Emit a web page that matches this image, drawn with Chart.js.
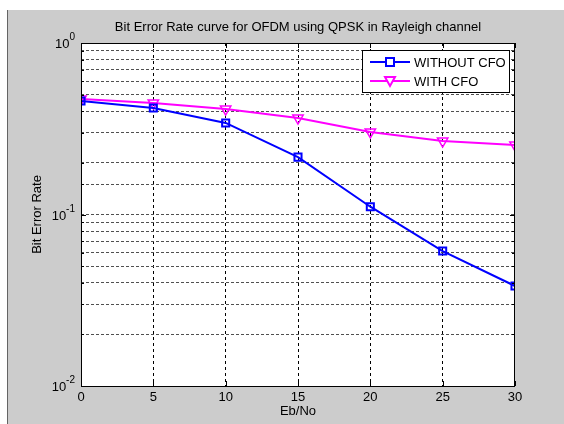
<!DOCTYPE html>
<html>
<head>
<meta charset="utf-8">
<script src="https://cdn.jsdelivr.net/npm/chart.js@4"></script>
<style>
html,body{margin:0;padding:0;background:#ffffff;}
#wrap{position:absolute;left:0;top:0;width:564px;height:424px;}
</style>
</head>
<body>
<div id="wrap"><canvas id="c" width="564" height="424"></canvas></div>
<script>
const chartTitle = 'Bit Error Rate curve for OFDM using QPSK in Rayleigh channel';
const xLabel = 'Eb/No';
const yLabel = 'Bit Error Rate';
const ebno = [0, 5, 10, 15, 20, 25, 30];
const berWithoutCFO = [0.459, 0.418, 0.342, 0.216, 0.111, 0.0612, 0.0383];
const berWithCFO = [0.471, 0.447, 0.412, 0.365, 0.303, 0.268, 0.254];
const seriesNames = ['WITHOUT CFO', 'WITH CFO'];
const xTicks = [0, 5, 10, 15, 20, 25, 30];
const yDecadeExps = [-2, -1, 0];

const FONT = '"Liberation Sans", Arial, sans-serif';
const FS = 13;
const TXT = '#000000';

function isDecade(v) {
  const l = Math.log10(v);
  return Math.abs(l - Math.round(l)) < 1e-6;
}

const matlabPlugin = {
  id: 'matlab',
  beforeDraw(chart) {
    const ctx = chart.ctx;
    ctx.save();
    ctx.fillStyle = '#ffffff';
    ctx.fillRect(0, 0, chart.width, chart.height);
    ctx.fillStyle = '#cccccc';
    ctx.fillRect(7, 10, chart.width - 7, chart.height - 10);
    ctx.strokeStyle = '#646464';
    ctx.lineWidth = 1;
    ctx.beginPath();
    ctx.moveTo(7.5, 10);
    ctx.lineTo(7.5, chart.height);
    ctx.stroke();
    const a = chart.chartArea;
    ctx.fillStyle = '#ffffff';
    ctx.fillRect(a.left, a.top, a.right - a.left, a.bottom - a.top);
    // title
    ctx.fillStyle = TXT;
    ctx.font = FS + 'px ' + FONT;
    ctx.textAlign = 'center';
    ctx.textBaseline = 'middle';
    ctx.fillText(chartTitle, (a.left + a.right) / 2, 27);
    ctx.restore();
  },
  afterDraw(chart) {
    const ctx = chart.ctx;
    const a = chart.chartArea;
    const xs = chart.scales.x, ys = chart.scales.y;
    ctx.save();
    // box
    ctx.strokeStyle = '#000000';
    ctx.lineWidth = 1;
    ctx.setLineDash([]);
    ctx.strokeRect(Math.round(a.left) + 0.5, Math.round(a.top) + 0.5, Math.round(a.right - a.left) - 1, Math.round(a.bottom - a.top));
    // x ticks inside
    ctx.beginPath();
    xTicks.forEach(v => {
      const px = Math.round(xs.getPixelForValue(v)) + 0.5;
      ctx.moveTo(px, a.bottom); ctx.lineTo(px, a.bottom - 5);
      ctx.moveTo(px, a.top); ctx.lineTo(px, a.top + 5);
    });
    // y ticks inside (major + minor)
    ys.ticks.forEach(t => {
      const py = Math.round(ys.getPixelForValue(t.value)) + 0.5;
      const len = isDecade(t.value) ? 5 : 3;
      ctx.moveTo(a.left, py); ctx.lineTo(a.left + len, py);
      ctx.moveTo(a.right, py); ctx.lineTo(a.right - len, py);
    });
    ctx.stroke();
    // y decade labels with superscripts
    ctx.fillStyle = TXT;
    yDecadeExps.forEach(e => {
      const py = ys.getPixelForValue(Math.pow(10, e));
      const expStr = String(e);
      ctx.font = '10px ' + FONT;
      const ew = ctx.measureText(expStr).width;
      ctx.textAlign = 'left';
      ctx.textBaseline = 'alphabetic';
      const right = a.left - 6;
      ctx.font = FS + 'px ' + FONT;
      const bw = ctx.measureText('10').width;
      ctx.fillText('10', right - ew - bw, py + 5);
      ctx.font = '10px ' + FONT;
      ctx.fillText(expStr, right - ew, py - 3);
    });
    // legend
    const lx = 362.5, ly = 50.5, lw = 147, lh = 42;
    ctx.fillStyle = '#ffffff';
    ctx.fillRect(lx, ly, lw, lh);
    ctx.strokeStyle = '#000000';
    ctx.strokeRect(lx, ly, lw, lh);
    chart.data.datasets.forEach((ds, i) => {
      const yy = 62 + i * 19;
      ctx.strokeStyle = ds.borderColor;
      ctx.lineWidth = 2;
      ctx.beginPath();
      ctx.moveTo(370, yy); ctx.lineTo(410, yy);
      ctx.stroke();
      ctx.fillStyle = '#ffffff';
      ctx.beginPath();
      if (i === 0) {
        ctx.rect(386, yy - 4, 8, 8);
      } else {
        ctx.moveTo(385, yy - 4); ctx.lineTo(395, yy - 4); ctx.lineTo(390, yy + 5); ctx.closePath();
      }
      ctx.fill();
      ctx.stroke();
      ctx.fillStyle = TXT;
      ctx.font = FS + 'px ' + FONT;
      ctx.textAlign = 'left';
      ctx.textBaseline = 'middle';
      ctx.fillText(ds.label, 414, yy + 1);
    });
    ctx.restore();
  }
};

new Chart(document.getElementById('c'), {
  type: 'line',
  data: {
    datasets: [
      {
        label: seriesNames[0],
        data: ebno.map((x, i) => ({x: x, y: berWithoutCFO[i]})),
        borderColor: '#0000ff',
        backgroundColor: 'rgba(0,0,0,0)',
        borderWidth: 2,
        pointStyle: 'rect',
        pointRadius: 5,
        pointBorderWidth: 2,
        pointBorderColor: '#0000ff',
        pointBackgroundColor: 'rgba(0,0,0,0)',
        tension: 0
      },
      {
        label: seriesNames[1],
        data: ebno.map((x, i) => ({x: x, y: berWithCFO[i]})),
        borderColor: '#ff00ff',
        backgroundColor: 'rgba(0,0,0,0)',
        borderWidth: 2,
        pointStyle: 'triangle',
        pointRotation: 180,
        pointRadius: 6,
        pointBorderWidth: 1.5,
        pointBorderColor: '#ff00ff',
        pointBackgroundColor: 'rgba(0,0,0,0)',
        tension: 0
      }
    ]
  },
  options: {
    responsive: false,
    animation: false,
    devicePixelRatio: 1,
    layout: {padding: {left: 0, right: 49, top: 43, bottom: 0}},
    plugins: {legend: {display: false}, title: {display: false}, tooltip: {enabled: false}},
    scales: {
      x: {
        type: 'linear',
        min: 0, max: 30,
        afterBuildTicks: (s) => { s.ticks = xTicks.map(v => ({value: v})); },
        afterFit: (s) => { s.height = 38; },
        ticks: {color: TXT, font: {family: FONT, size: FS}, padding: 4, maxRotation: 0, autoSkip: false},
        grid: {
          drawTicks: false,
          color: (c) => (c.tick && (c.tick.value === 0 || c.tick.value === 30)) ? 'rgba(0,0,0,0)' : '#000000',
          lineWidth: 1
        },
        border: {display: false, dash: [3, 3]},
        title: {display: true, text: xLabel, color: TXT, font: {family: FONT, size: FS}, padding: {top: 0, bottom: 5}}
      },
      y: {
        type: 'logarithmic',
        min: 0.01, max: 1,
        afterFit: (s) => { s.width = 81; },
        ticks: {display: false, autoSkip: false},
        grid: {
          drawTicks: false,
          color: (c) => (c.tick && (c.tick.value === 1 || c.tick.value === 0.01)) ? 'rgba(0,0,0,0)' : '#505050',
          lineWidth: 1
        },
        border: {display: false, dash: [3, 2]},
        title: {display: true, text: yLabel, color: TXT, font: {family: FONT, size: FS}, padding: {top: 30, bottom: 0}}
      }
    }
  },
  plugins: [matlabPlugin]
});
</script>
</body>
</html>
